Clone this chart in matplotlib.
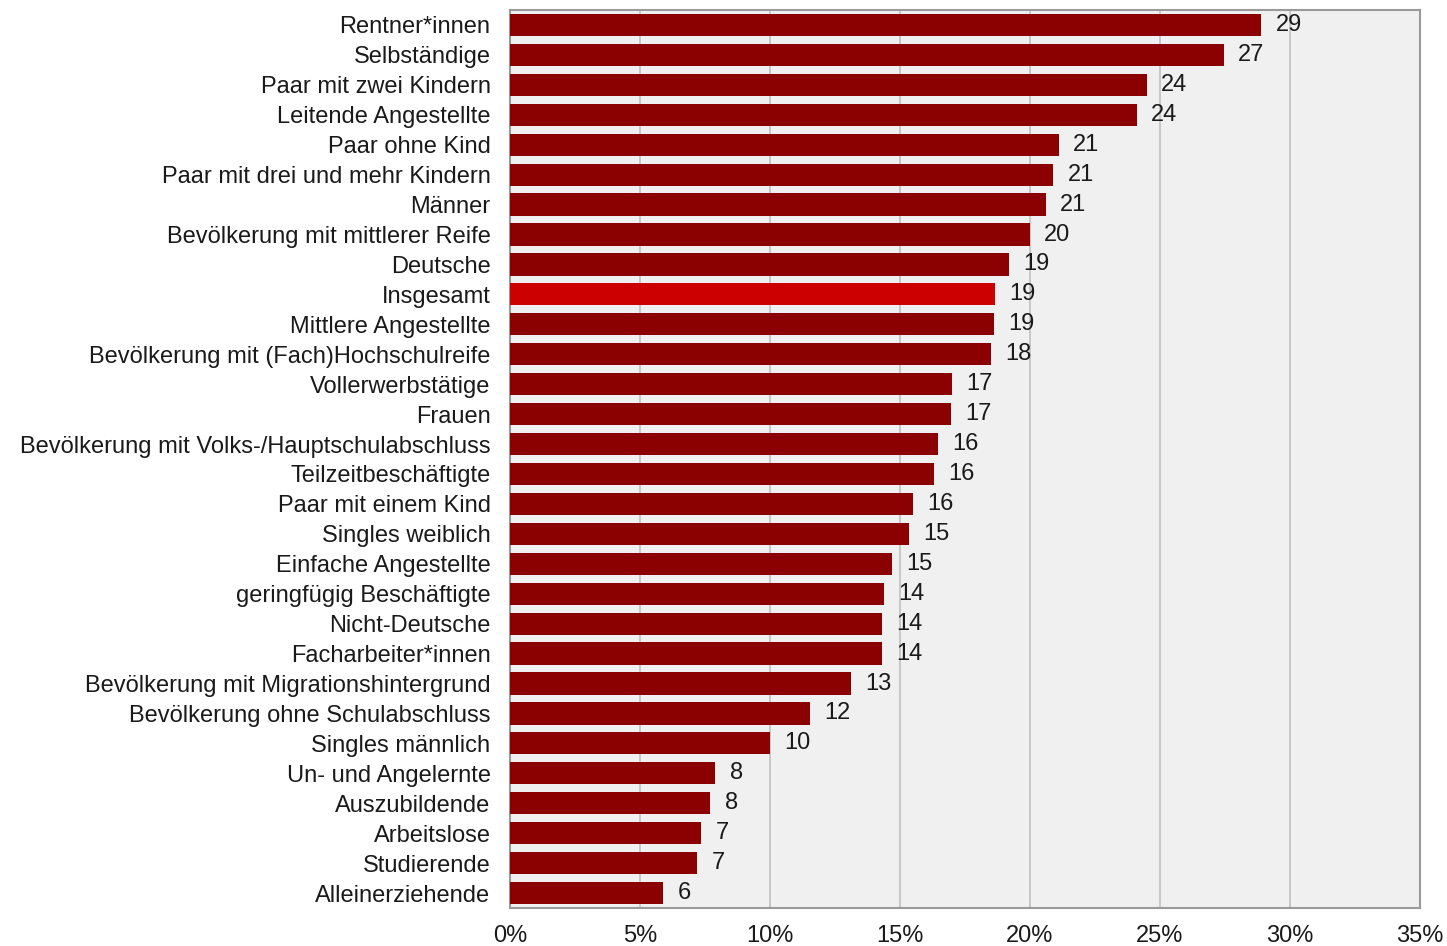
import matplotlib.pyplot as plt

plt.rcParams['font.family'] = ['Liberation Sans', 'DejaVu Sans']

categories = ['Rentner*innen', 'Selbständige', 'Paar mit zwei Kindern', 'Leitende Angestellte',
              'Paar ohne Kind', 'Paar mit drei und mehr Kindern', 'Männer',
              'Bevölkerung mit mittlerer Reife', 'Deutsche', 'Insgesamt', 'Mittlere Angestellte',
              'Bevölkerung mit (Fach)Hochschulreife', 'Vollerwerbstätige', 'Frauen',
              'Bevölkerung mit Volks-/Hauptschulabschluss', 'Teilzeitbeschäftigte',
              'Paar mit einem Kind', 'Singles weiblich', 'Einfache Angestellte',
              'geringfügig Beschäftigte', 'Nicht-Deutsche', 'Facharbeiter*innen',
              'Bevölkerung mit Migrationshintergrund', 'Bevölkerung ohne Schulabschluss',
              'Singles männlich', 'Un- und Angelernte', 'Auszubildende', 'Arbeitslose',
              'Studierende', 'Alleinerziehende']
values = [28.9, 27.45, 24.5, 24.1, 21.1, 20.9, 20.6, 20.0, 19.2, 18.65, 18.6, 18.5,
          17.0, 16.95, 16.45, 16.3, 15.5, 15.35, 14.7, 14.4, 14.3, 14.3, 13.1, 11.55,
          10.0, 7.9, 7.7, 7.35, 7.2, 5.9]
value_labels = ['29', '27', '24', '24', '21', '21', '21', '20', '19', '19', '19', '18',
                '17', '17', '16', '16', '16', '15', '15', '14', '14', '14', '13', '12',
                '10', '8', '8', '7', '7', '6']
highlight = 'Insgesamt'

fig = plt.figure(figsize=(14.47, 9.46), dpi=100)
ax = fig.add_axes([510/1447, 1 - 908/946, 910/1447, 898/946])

colors = ['#cc0000' if c == highlight else '#8b0000' for c in categories]
ypos = range(len(categories))
ax.barh(ypos, values, height=0.74, color=colors, zorder=3)

for y, v, lab in zip(ypos, values, value_labels):
    ax.text(v + 0.55, y, lab, va='center', ha='left', fontsize=17, color='#1a1a1a', zorder=4)

ax.set_xlim(0, 35)
ax.set_ylim(len(categories) - 0.5, -0.5)
ax.set_xticks([0, 5, 10, 15, 20, 25, 30, 35])
ax.set_xticklabels([f'{t}%' for t in [0, 5, 10, 15, 20, 25, 30, 35]])
ax.set_yticks(list(ypos))
ax.set_yticklabels(categories)
ax.tick_params(axis='both', length=0, labelsize=17, labelcolor='#1a1a1a')
ax.tick_params(axis='y', pad=14)
ax.tick_params(axis='x', pad=12)

ax.set_facecolor('#f0f0f0')
ax.grid(axis='x', color='#c4c4c4', linewidth=1.3, zorder=0)
for s in ax.spines.values():
    s.set_color('#9a9a9a')
    s.set_linewidth(1.5)

fig.savefig('out.png', dpi=100)
